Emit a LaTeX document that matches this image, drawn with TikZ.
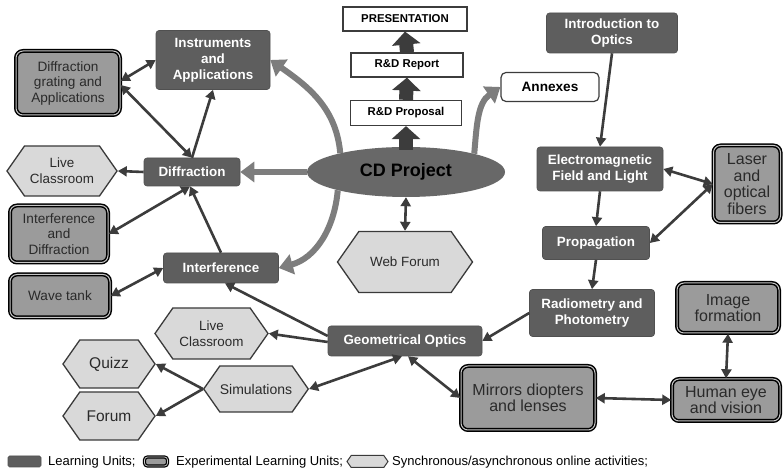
\documentclass[tikz,border=0pt]{standalone}
\usepackage{fontspec}
\setmainfont{Liberation Sans}
\usetikzlibrary{arrows.meta,shapes.geometric,shapes.symbols}
\definecolor{lufill}{HTML}{5E5E5E}
\definecolor{elufill}{HTML}{9B9B9B}
\definecolor{hexfill}{HTML}{D9D9D9}
\definecolor{hexdraw}{HTML}{3A3A3A}
\definecolor{darkarr}{HTML}{3C3C3C}
\definecolor{greyarr}{HTML}{7D7D7D}
\definecolor{cdfill}{HTML}{686868}
\definecolor{txtdark}{HTML}{2A2A2A}
\tikzset{
  lu/.style={rounded corners=3pt, fill=lufill, draw=lufill!85!black, line width=0.6pt,
    text=white, font=\fontsize{13.4}{16}\selectfont\bfseries, align=center, inner sep=0pt},
  elu/.style={rounded corners=7pt, fill=elufill, draw=black, line width=1.5pt,
    double=gray!45, double distance=1pt, text=txtdark, align=center, inner sep=0pt,
    font=\fontsize{13.6}{15.5}\selectfont},
  elubig/.style={elu, font=\fontsize{16}{16.5}\selectfont},
  hexa/.style={signal, signal to=east and west, signal pointer angle=110,
    fill=hexfill, draw=hexdraw, line width=1.3pt, text=txtdark, align=center,
    inner sep=0pt, font=\fontsize{13.4}{16}\selectfont},
  wbox/.style={draw=darkarr, line width=1.2pt, fill=white, inner sep=0pt,
    font=\fontsize{11.4}{13}\selectfont\bfseries, text=black},
  darr/.style={draw=darkarr, line width=2.6pt, >={Triangle[length=9pt,width=10pt]}, ->},
  ddarr/.style={darr, <->},
  garr/.style={draw=greyarr, line width=6pt, >={Triangle[length=14pt,width=20pt]}, ->},
  barr/.style={draw=darkarr, line width=14pt, -{Triangle[length=13pt,width=28pt]}},
  legtext/.style={anchor=west, inner sep=0pt, text=black, font=\fontsize{13}{15}\selectfont}
}
\begin{document}
\begin{tikzpicture}[x=1pt,y=1pt]
\useasboundingbox (0,0) rectangle (784,473);
\fill[white] (0,0) rectangle (784,473);

% Learning units
\node[lu, minimum width=114, minimum height=59] (inst) at (213,413) {Instruments\\and\\Applications};
\node[lu, minimum width=96, minimum height=28] (diff) at (192,301) {Diffraction};
\node[lu, minimum width=115, minimum height=30] (interf) at (221,205) {Interference};
\node[lu, minimum width=154, minimum height=30] (geo) at (405,132) {Geometrical Optics};
\node[lu, minimum width=131, minimum height=40] (intro) at (612,440) {Introduction to\\Optics};
\node[lu, minimum width=126, minimum height=44] (em) at (600,304) {Electromagnetic\\Field and Light};
\node[lu, minimum width=107, minimum height=33] (propag) at (596,230) {Propagation};
\node[lu, minimum width=125, minimum height=47] (radio) at (592,160) {Radiometry and\\Photometry};

% Experimental learning units
\node[elu, minimum width=104, minimum height=64] (dga) at (68,390) {Diffraction\\grating and\\Applications};
\node[elu, minimum width=98, minimum height=57] (iad) at (59,239) {Interference\\and\\Diffraction};
\node[elu, minimum width=100, minimum height=43] (wave) at (60,177) {Wave tank};
\node[elubig, minimum width=67, minimum height=77] (laser) at (747,289) {Laser\\and\\optical\\fibers};
\node[elubig, minimum width=102, minimum height=50] (imgf) at (728,165) {Image\\formation};
\node[elubig, minimum width=108, minimum height=42] (human) at (726,73) {Human eye\\and vision};
\node[elubig, minimum width=134, minimum height=64] (mirror) at (528,75) {Mirrors diopters\\and lenses};

% Online activities
\node[hexa, minimum width=110, minimum height=50] (lc1) at (62,302) {Live\\Classroom};
\node[hexa, minimum width=113, minimum height=51] (lc2) at (211.5,139.5) {Live\\Classroom};
\node[hexa, minimum width=92, minimum height=48, font=\fontsize{15.5}{17}\selectfont] (quizz) at (109,109) {Quizz};
\node[hexa, minimum width=92, minimum height=48, font=\fontsize{15.5}{17}\selectfont] (forum) at (109,57) {Forum};
\node[hexa, minimum width=99, minimum height=46, font=\fontsize{14}{16}\selectfont] (sim) at (256,84) {Simulations};
\node[hexa, minimum width=135, minimum height=61] (web) at (405,211) {Web Forum};

% Project
\node[ellipse, fill=cdfill, draw=none, minimum width=198, minimum height=50, inner sep=0pt,
  font=\fontsize{18}{20}\selectfont\bfseries, text=black] (cd) at (406,301) {CD Project};
\node[wbox, minimum width=124, minimum height=24] (pres) at (405,454) {PRESENTATION};
\node[wbox, minimum width=112, minimum height=24] (rep) at (407,408) {R\&D Report};
\node[wbox, minimum width=111, minimum height=25] (rdp) at (406,360) {R\&D Proposal};
\node[wbox, rounded corners=5pt, minimum width=98, minimum height=29,
  font=\fontsize{13.6}{15}\selectfont\bfseries] (annex) at (550,386) {Annexes};

% Block arrows
\draw[barr] ([yshift=-3]cd.north) -- (rdp.south);
\draw[barr] (rdp.north) -- (rep.south);
\draw[barr] (rep.north) -- (pres.south);

% Grey arrows from CD project
\draw[garr] (cd.west) -- (diff.east);
\draw[garr] (cd.164) to[out=95, in=-35] (inst.east);
\draw[garr] (cd.195) to[out=-95, in=15] (interf.east);
\draw[garr] (cd.15) to[out=85, in=-145] (annex.west);
\draw[ddarr] (cd.south) -- (web.north);

% Right part
\draw[darr] (intro.south) -- (em.north);
\draw[darr] (em.south) -- (propag.north);
\draw[darr] (propag.south) -- (radio.north);
\draw[darr] (radio.west) -- (geo.east);
\draw[ddarr] (em.east) -- (laser.west);
\draw[ddarr] (propag.east) -- (laser.west);
\draw[ddarr] ([xshift=3]geo.south) -- (mirror.west);
\draw[ddarr] ([xshift=-3]geo.south) -- (sim.east);
\draw[ddarr] (mirror.east) -- (human.west);
\draw[ddarr] (imgf.south) -- (human.north);

% Left part
\draw[darr] ([yshift=-1]geo.west) -- (lc2.east);
\draw[darr] ([yshift=5]geo.west) -- ([xshift=4]interf.south);
\draw[darr] (sim.west) -- (quizz.east);
\draw[darr] (sim.west) -- (forum.east);
\draw[darr] (interf.north) -- ([xshift=-2]diff.south);
\draw[ddarr] (interf.west) -- (wave.east);
\draw[ddarr] ([xshift=-2]diff.south) -- (iad.east);
\draw[darr] (diff.west) -- (lc1.east);
\draw[darr] (diff.north) -- (inst.south);
\draw[ddarr] (diff.north) -- ([yshift=-2]dga.east);
\draw[ddarr] (inst.west) -- ([yshift=2]dga.east);

% Legend
\node[lu, rounded corners=1.5pt, minimum width=33, minimum height=11] (leglu) at (24.5,11.5) {};
\node[legtext] (legt1) at (48,11) {Learning Units;};
\node[elu, rounded corners=3pt, line width=1.2pt, double distance=0.8pt, minimum width=23, minimum height=9] (legelu) at (156,11.5) {};
\node[legtext] (legt2) at (176,11) {Experimental Learning Units;};
\node[hexa, line width=1pt, minimum width=41, minimum height=12] (leghex) at (367.5,11.5) {};
\node[legtext] (legt3) at (392,11) {Synchronous/asynchronous online activities;};
\end{tikzpicture}
\end{document}
